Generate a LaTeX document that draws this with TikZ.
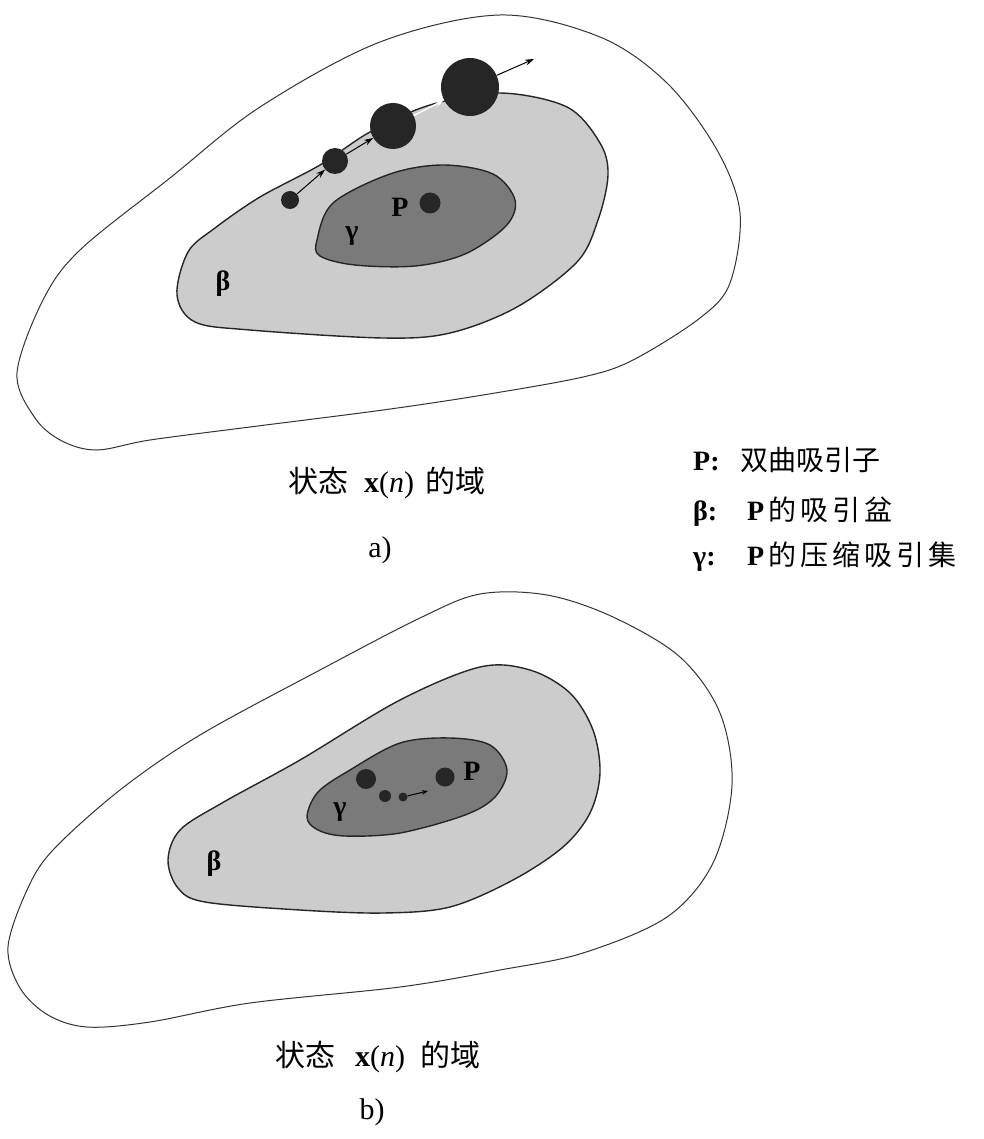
\documentclass[tikz,border=0pt]{standalone}
\usepackage{fontspec}
\setmainfont{Liberation Serif}
\newfontfamily\cjk{Noto Sans CJK SC}
\usetikzlibrary{arrows.meta}
\newcommand{\gp}{\hspace{4pt}}
\begin{document}
\begin{tikzpicture}[x=1pt,y=-1pt,
  region/.style={draw=black!85,line width=1.4pt},
  outerline/.style={draw=black!80,line width=1pt},
  ball/.style={circle,fill=black!85,inner sep=0pt},
  lbl/.style={font=\fontsize{28}{32}\selectfont\bfseries,inner sep=0pt},
  captext/.style={font=\fontsize{30}{34}\selectfont,inner sep=0pt},
  legtext/.style={font=\fontsize{28}{32}\selectfont,inner sep=0pt,anchor=west},
  arr/.style={-{Stealth[length=9pt,width=6pt]},line width=1pt}]
\useasboundingbox (0,0) rectangle (983,1139);
% ---------- panel a ----------
\draw[outerline] plot[smooth cycle,tension=0.55] coordinates {
 (17,373) (43,300) (80,250) (170,178) (260,107) (380,42) (500,15) (600,37) (667,83) (717,150) (740,213) (730,283) (700,318) (633,360) (583,377) (483,395) (383,410) (250,427) (150,440) (97,450) (62,441) (35,418)};
\draw[region,fill=black!20] plot[smooth cycle,tension=0.55] coordinates {
 (177,295) (188,252) (215,228) (260,197) (320,165) (370,132) (430,105) (500,93) (567,107) (600,143) (608,175) (598,220) (577,262) (517,307) (450,333) (383,338) (250,330) (195,322)};
\draw[region,fill=black!52] plot[smooth cycle,tension=0.55] coordinates {
 (317,240) (333,203) (390,174) (443,165) (493,174) (515,200) (506,226) (465,254) (415,266) (355,265) (320,256)};
\node[ball,minimum size=18pt] (b1) at (290,200) {};
\node[ball,minimum size=26pt] (b2) at (335,161) {};
\node[ball,minimum size=46pt] (b3) at (393,126) {};
\node[ball,minimum size=58pt] (b4) at (470,87) {};
\coordinate (out) at (534,59);
\draw[arr] (b1) -- (b2);
\draw[arr] (b2) -- (b3);
\draw[arr,white,line width=1.4pt] (b3) -- (b4);
\draw[arr] (b4) -- (out);
\node[lbl] (pa) at (400,207) {P};
\node[ball,minimum size=21pt] (pdota) at (430,203) {};
\node[lbl] (ga) at (352,236) {γ};
\node[lbl] (ba) at (223,284) {β};
\node[captext] (capa) at (387,483) {{\cjk 状态}\hspace{16pt}\textbf{x}(\textit{n})\hspace{12pt}{\cjk 的域}};
\node[captext] (suba) at (380,550) {a)};
% legend
\node[legtext] (l1) at (693,460) {\makebox[47pt][l]{\bfseries P:}{\cjk 双曲吸引子}};
\node[legtext] (l2) at (693,512) {\makebox[54pt][l]{\bfseries β:}\textbf{P}{\cjk\gp 的\gp 吸\gp 引\gp 盆}};
\node[legtext] (l3) at (693,557) {\makebox[54pt][l]{\bfseries γ:}\textbf{P}{\cjk\gp 的\gp 压\gp 缩\gp 吸\gp 引\gp 集}};
% ---------- panel b ----------
\draw[outerline] plot[smooth cycle,tension=0.55] coordinates {
 (8,947) (27,890) (53,850) (120,790) (200,735) (320,670) (420,618) (480,594) (547,595) (613,617) (680,657) (720,713) (732,785) (713,863) (667,917) (583,953) (500,970) (400,987) (250,1003) (150,1022) (87,1027) (48,1015) (20,988)};
\draw[region,fill=black!20] plot[smooth cycle,tension=0.55] coordinates {
 (168,860) (180,830) (222,803) (300,760) (400,700) (480,667) (530,670) (570,693) (593,730) (600,773) (590,813) (563,847) (513,880) (450,907) (383,913) (300,910) (205,902) (178,888)};
\draw[region,fill=black!52] plot[smooth cycle,tension=0.55] coordinates {
 (307,817) (318,792) (350,770) (400,743) (450,738) (490,745) (507,770) (495,797) (465,815) (400,833) (345,836) (318,830)};
\node[ball,minimum size=20pt] (c1) at (366,779) {};
\node[ball,minimum size=12pt] (c2) at (385,796) {};
\node[ball,minimum size=9pt] (c3) at (403,797) {};
\coordinate (c4) at (428,791);
\draw[-{Stealth[length=6pt,width=4.5pt]},line width=1pt] (c3) -- (c4);
\node[ball,minimum size=19pt] (pdotb) at (445,777) {};
\node[lbl] (pb) at (472,771) {P};
\node[lbl] (gb) at (340,812) {γ};
\node[lbl] (bb) at (214,864) {β};
\node[captext] (capb) at (378,1057) {{\cjk 状态}\hspace{20pt}\textbf{x}(\textit{n})\hspace{16pt}{\cjk 的域}};
\node[captext] (subb) at (372,1112) {b)};
\end{tikzpicture}
\end{document}
